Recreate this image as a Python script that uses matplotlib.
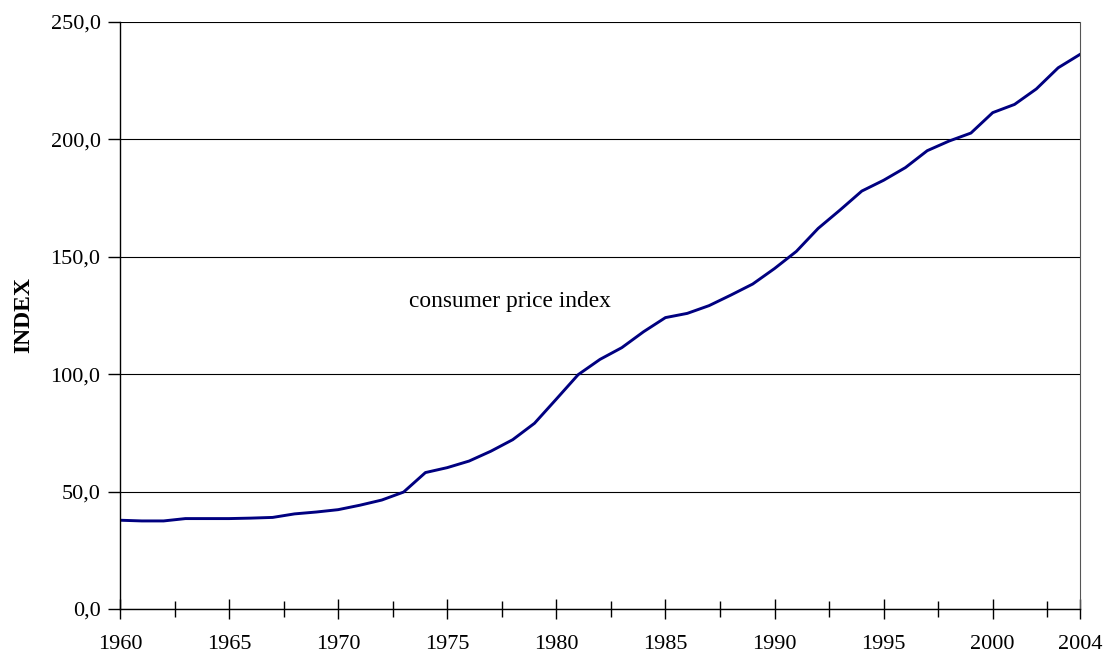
import matplotlib.pyplot as plt
from matplotlib.ticker import MultipleLocator, FuncFormatter

years = list(range(1960, 2005))
cpi = [37.8, 37.5, 37.5, 38.5, 38.5, 38.5, 38.7, 39.0, 40.5, 41.3,
       42.3, 44.2, 46.4, 49.8, 58.1, 60.2, 63.0, 67.2, 72.1, 79.1,
       89.4, 99.8, 106.3, 111.3, 118.1, 124.1, 125.9, 129.2, 133.7, 138.4,
       145.0, 152.3, 162.1, 169.9, 178.0, 182.6, 188.0, 195.2, 199.3, 202.7,
       211.4, 214.9, 221.5, 230.5, 236.2]

plt.rcParams['font.family'] = ['Liberation Serif', 'DejaVu Serif']

fig = plt.figure(figsize=(11.18, 6.59), dpi=100)
ax = fig.add_axes([0.1073, 0.0759, 0.8587, 0.8907])

ax.plot(years, cpi, color='#000080', linewidth=2.1)

ax.set_xlim(1960, 2004)
ax.set_ylim(0, 250)

ax.yaxis.set_major_locator(MultipleLocator(50))
ax.yaxis.set_major_formatter(FuncFormatter(lambda v, p: f'{v:.1f}'.replace('.', ',')))
ax.set_xticks([1960, 1965, 1970, 1975, 1980, 1985, 1990, 1995, 2000, 2004])
ax.xaxis.set_minor_locator(MultipleLocator(2.5))

ax.grid(axis='y', color='black', linewidth=0.8)
ax.set_axisbelow(True)

ax.tick_params(axis='x', which='major', direction='inout', length=14, width=1,
               labelsize=16, pad=12)
ax.tick_params(axis='x', which='minor', direction='inout', length=11, width=1)
ax.tick_params(axis='y', direction='out', length=9, width=1, labelsize=16, pad=5)

for side in ['left', 'bottom']:
    ax.spines[side].set_color('black')
    ax.spines[side].set_linewidth(1)
ax.spines['top'].set_visible(False)
ax.spines['right'].set_color('#555555')
ax.spines['right'].set_linewidth(0.8)

ax.set_ylabel('INDEX', fontsize=17, fontweight='bold')
ax.yaxis.set_label_coords(-0.0895, 0.5)
ax.text(1973.25, 131.0, 'consumer price index', fontsize=16.8, va='center', ha='left')

fig.savefig('out.png', dpi=100)
